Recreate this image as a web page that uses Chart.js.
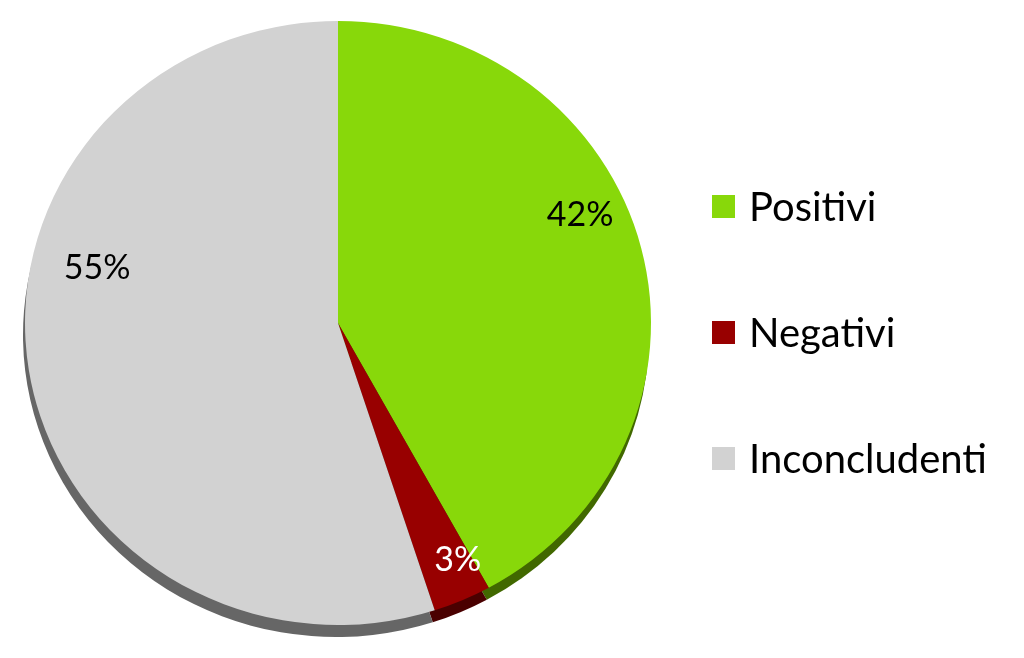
<!DOCTYPE html>
<html>
<head>
<meta charset="utf-8">
<script src="https://cdn.jsdelivr.net/npm/chart.js@4/dist/chart.umd.min.js"></script>
<style>
  body { margin: 0; background: #fff; }
  #wrap { position: relative; width: 1024px; height: 658px; }
  #legend { position: absolute; left: 712px; top: 0; font-family: Lato, sans-serif; font-size: 40px; color: #000; }
  .item { position: absolute; left: 0; white-space: nowrap; display: flex; align-items: center; height: 40px; }
  .box { width: 23px; height: 23px; margin-right: 14px; }
</style>
</head>
<body>
<div id="wrap">
  <canvas id="myChart" width="1024" height="658"></canvas>
  <div id="legend"></div>
</div>
<script>
const labels = ['Positivi', 'Negativi', 'Inconcludenti'];
const values = [42, 3, 55];
const percentLabels = ['42%', '3%', '55%'];

const colors = ['#88d80a', '#980000', '#d2d2d2'];
const sideColors = ['#416800', '#4a0000', '#666666'];
const labelColors = ['#000', '#fff', '#000'];
// label placement tweaks (degrees, fraction of radius)
const labelShift = [-10.4, -2.6, 22.3];
const labelDist = [0.852, 0.873, 0.791];

const squash = 0.965;
const depth = 12;

// legend
const legend = document.getElementById('legend');
const legendTop = [206, 332, 458];
labels.forEach((l, i) => {
    const d = document.createElement('div');
    d.className = 'item';
    d.style.top = (legendTop[i] - 20) + 'px';
    d.innerHTML = `<span class="box" style="background:${colors[i]}"></span><span>${l}</span>`;
    legend.appendChild(d);
});

const tiltPlugin = {
    id: 'tilt',
    beforeDatasetsDraw(chart) {
        const ctx = chart.ctx;
        const arcs = chart.getDatasetMeta(0).data;
        const cx = arcs[0].x, cy = arcs[0].y;
        ctx.save();
        ctx.translate(cx, cy);
        ctx.scale(1, squash);
        ctx.translate(-cx, -cy);
        // side of the disc
        ctx.save();
        ctx.translate(-2, depth / squash);
        arcs.forEach((a, i) => {
            ctx.beginPath();
            ctx.moveTo(a.x, a.y);
            ctx.arc(a.x, a.y, a.outerRadius, a.startAngle, a.endAngle);
            ctx.closePath();
            ctx.fillStyle = sideColors[i];
            ctx.fill();
        });
        ctx.restore();
    },
    afterDatasetsDraw(chart) {
        const ctx = chart.ctx;
        ctx.restore();
        const arcs = chart.getDatasetMeta(0).data;
        ctx.save();
        ctx.font = '34px Lato, sans-serif';
        ctx.textAlign = 'center';
        ctx.textBaseline = 'middle';
        arcs.forEach((a, i) => {
            const mid = (a.startAngle + a.endAngle) / 2 + labelShift[i] * Math.PI / 180;
            const r = a.outerRadius * labelDist[i];
            const x = a.x + Math.cos(mid) * r;
            const y = a.y + Math.sin(mid) * r * squash;
            ctx.fillStyle = labelColors[i];
            ctx.fillText(percentLabels[i], x, y);
        });
        ctx.restore();
    }
};

new Chart(document.getElementById('myChart'), {
    type: 'pie',
    data: {
        labels: labels,
        datasets: [{
            data: values,
            backgroundColor: colors,
            borderWidth: 0
        }]
    },
    options: {
        responsive: false,
        animation: false,
        layout: { padding: { left: 25, right: 373, top: 10, bottom: 22 } },
        plugins: {
            legend: { display: false },
            tooltip: { enabled: false }
        }
    },
    plugins: [tiltPlugin]
});
</script>
</body>
</html>
